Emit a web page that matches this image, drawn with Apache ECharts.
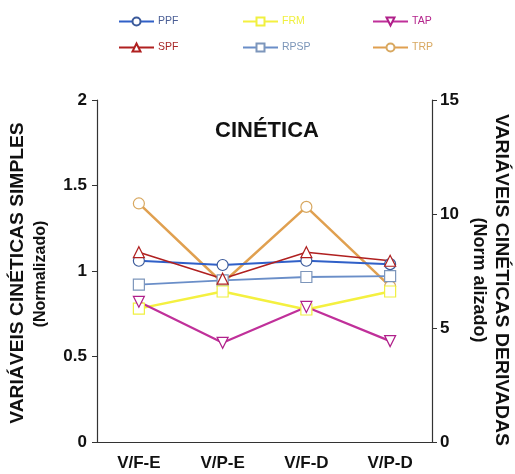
<!DOCTYPE html>
<html><head><meta charset="utf-8">
<script src="https://cdn.jsdelivr.net/npm/echarts@6/dist/echarts.min.js"></script>
<style>html,body{margin:0;padding:0;background:#fff}#c{width:515px;height:474px}</style>
</head><body><div id="c"></div>
<script>
const categories = ['V/F-E', 'V/P-E', 'V/F-D', 'V/P-D'];
const leftTicks = [0, 0.5, 1, 1.5, 2];
const rightTicks = [0, 5, 10, 15];
const PPF  = [1.06, 1.035, 1.06, 1.04];
const SPF  = [1.11, 0.955, 1.11, 1.06];
const FRM  = [0.78, 0.88, 0.775, 0.88];
const RPSP = [0.92, 0.945, 0.965, 0.97];
const TAP  = [0.82, 0.58, 0.79, 0.59];
const TRP  = [1.395, 0.93, 1.375, 0.91];

const chart = echarts.init(document.getElementById('c'));
const F = 'Liberation Sans, Arial, sans-serif';
function s(name, data, color, symbol, lw, mcolor) {
  return {
    name, type: 'line', data, symbol, symbolSize: 11,
    lineStyle: { color, width: lw },
    itemStyle: { color: '#fff', borderColor: mcolor || color, borderWidth: 1.2 },
    emphasis: { disabled: true }
  };
}
function leg(left, items) {
  return {
    orient: 'vertical', left, top: 11, itemWidth: 35, itemHeight: 10, itemGap: 15,
    textStyle: { fontSize: 10.5, fontFamily: F, padding: [0, 0, 0, -1] },
    data: items.map(([n, c]) => ({ name: n, textStyle: { color: c } }))
  };
}
chart.setOption({
  animation: false,
  title: { text: 'CINÉTICA', left: 262, top: 115, textAlign: 'center',
    textStyle: { fontSize: 22, fontWeight: 'bold', color: '#111', fontFamily: F } },
  legend: [
    leg(113, [['PPF', '#4a5e95'], ['SPF', '#a82828']]),
    leg(237, [['FRM', '#f0f040'], ['RPSP', '#7b95b8']]),
    leg(367, [['TAP', '#b4248c'], ['TRP', '#d8a860']])
  ],
  grid: { left: 97, right: 83, top: 100, bottom: 32 },
  xAxis: {
    type: 'category', data: categories, boundaryGap: true,
    axisLine: { lineStyle: { color: '#333', width: 1.2 } },
    axisTick: { show: false },
    axisLabel: { fontSize: 17, fontWeight: 'bold', color: '#111', fontFamily: F, margin: 13 }
  },
  yAxis: [
    { type: 'value', min: 0, max: 2, interval: 0.5, position: 'left',
      axisLine: { show: true, lineStyle: { color: '#333', width: 1.2 } },
      axisTick: { show: true, length: 5, lineStyle: { color: '#333' } },
      splitLine: { show: false },
      axisLabel: { fontSize: 17, fontWeight: 'bold', color: '#111', fontFamily: F, margin: 10,
        formatter: v => leftTicks.includes(v) ? String(v) : '' } },
    { type: 'value', min: 0, max: 15, interval: 5, position: 'right',
      axisLine: { show: true, lineStyle: { color: '#333', width: 1.2 } },
      axisTick: { show: true, length: 5, lineStyle: { color: '#333' } },
      splitLine: { show: false },
      axisLabel: { fontSize: 17, fontWeight: 'bold', color: '#111', fontFamily: F, margin: 8,
        formatter: v => rightTicks.includes(v) ? String(v) : '' } }
  ],
  series: [
    s('TRP', TRP, '#e0a050', 'circle', 2.5, '#d8a860'),
    s('RPSP', RPSP, '#6a8ec8', 'rect', 1.8, '#7d96bb'),
    s('FRM', FRM, '#f4f040', 'rect', 2.5, '#f0f040'),
    s('TAP', TAP, '#c0309a', 'triangle', 2.2, '#b0208a'),
    s('PPF', PPF, '#3060c8', 'circle', 2, '#3b5a9a'),
    s('SPF', SPF, '#b02020', 'triangle', 1.6, '#b02020')
  ].map(o => { if (o.name === 'TAP') o.symbolRotate = 180; return o; }),
  graphic: [
    { type: 'text', x: 18, y: 273, rotation: Math.PI / 2, scaleX: 1.07,
      style: { text: 'VARIÁVEIS CINÉTICAS SIMPLES', font: 'bold 18px Liberation Sans, Arial', fill: '#111', align: 'center', verticalAlign: 'middle' } },
    { type: 'text', x: 41, y: 274, rotation: Math.PI / 2,
      style: { text: '(Normalizado)', font: 'bold 16px Liberation Sans, Arial', fill: '#111', align: 'center', verticalAlign: 'middle' } },
    { type: 'text', x: 501, y: 280, rotation: -Math.PI / 2, scaleX: 1.08,
      style: { text: 'VARIÁVEIS CINÉTICAS DERIVADAS', font: 'bold 18px Liberation Sans, Arial', fill: '#111', align: 'center', verticalAlign: 'middle' } },
    { type: 'text', x: 479, y: 280, rotation: -Math.PI / 2,
      style: { text: '(Norm alizado)', font: 'bold 18px Liberation Sans, Arial', fill: '#111', align: 'center', verticalAlign: 'middle' } }
  ]
});
</script></body></html>
